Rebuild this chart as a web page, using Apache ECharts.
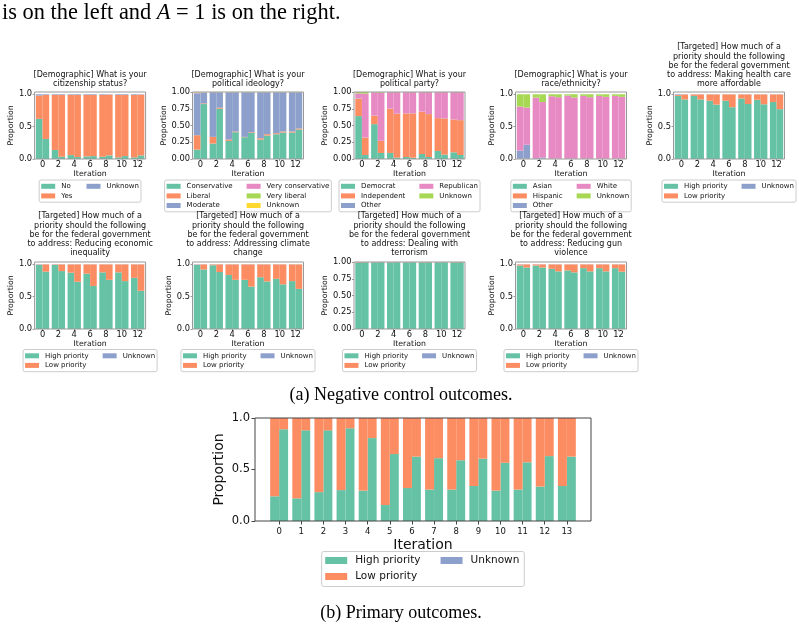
<!DOCTYPE html>
<html>
<head>
<meta charset="utf-8">
<script src="https://cdn.jsdelivr.net/npm/echarts@6.0.0/dist/echarts.min.js"></script>
<style>
html,body{margin:0;padding:0;background:#ffffff;}
#chart{width:799px;height:639px;}
</style>
</head>
<body>
<div id="chart"></div>
<script>
// ---------- tick labels / categories ----------
const iterSmall = ['0', '2', '4', '6', '8', '10', '12'];
const iterBig = ['0', '1', '2', '3', '4', '5', '6', '7', '8', '9', '10', '11', '12', '13'];
const yTicksHalf = [0, 0.5, 1.0];
const yTicksQuarter = [0, 0.25, 0.5, 0.75, 1.0];

// ---------- citizenship (A0 = left bar, A1 = right bar) ----------
const citNoA0  = [0.62, 0.14, 0.06, 0.04, 0.035, 0.025, 0.025];
const citYesA0 = [0.36, 0.85, 0.93, 0.95, 0.955, 0.965, 0.965];
const citUnkA0 = [0.02, 0.01, 0.01, 0.01, 0.01, 0.01, 0.01];
const citNoA1  = [0.31, 0.035, 0.03, 0.045, 0.055, 0.045, 0.055];
const citYesA1 = [0.68, 0.955, 0.96, 0.945, 0.94, 0.945, 0.94];
const citUnkA1 = [0.01, 0.01, 0.01, 0.01, 0.005, 0.01, 0.005];

// ---------- ideology ----------
const ideConsA0 = [0.14, 0.23, 0.27, 0.325, 0.29, 0.37, 0.395];
const ideLibA0  = [0.215, 0.10, 0.02, 0.005, 0.02, 0.015, 0.015];
const ideModA0  = [0.625, 0.665, 0.705, 0.665, 0.685, 0.61, 0.585];
const ideVConsA0 = [0.01, 0.003, 0.002, 0.002, 0.002, 0.002, 0.002];
const ideVLibA0  = [0.007, 0.002, 0.002, 0.002, 0.002, 0.002, 0.002];
const ideUnkA0   = [0.003, 0.0, 0.001, 0.001, 0.001, 0.001, 0.001];
const ideConsA1 = [0.82, 0.75, 0.40, 0.39, 0.35, 0.395, 0.44];
const ideLibA1  = [0.01, 0.015, 0.01, 0.01, 0.02, 0.015, 0.015];
const ideModA1  = [0.16, 0.23, 0.585, 0.595, 0.625, 0.585, 0.54];
const ideVConsA1 = [0.005, 0.002, 0.002, 0.002, 0.002, 0.002, 0.002];
const ideVLibA1  = [0.003, 0.002, 0.002, 0.002, 0.002, 0.002, 0.002];
const ideUnkA1   = [0.002, 0.001, 0.001, 0.001, 0.001, 0.001, 0.001];

// ---------- party ----------
const parDemA0 = [0.64, 0.52, 0.09, 0.03, 0.075, 0.12, 0.10];
const parIndA0 = [0.26, 0.125, 0.66, 0.65, 0.63, 0.49, 0.49];
const parOthA0 = [0.005, 0.003, 0.002, 0.002, 0.002, 0.002, 0.002];
const parRepA0 = [0.075, 0.347, 0.246, 0.316, 0.291, 0.386, 0.406];
const parUnkA0 = [0.02, 0.005, 0.002, 0.002, 0.002, 0.002, 0.002];
const parDemA1 = [0.06, 0.09, 0.02, 0.02, 0.03, 0.065, 0.06];
const parIndA1 = [0.26, 0.18, 0.655, 0.66, 0.64, 0.54, 0.52];
const parOthA1 = [0.003, 0.002, 0.002, 0.002, 0.002, 0.002, 0.002];
const parRepA1 = [0.652, 0.718, 0.321, 0.316, 0.326, 0.391, 0.416];
const parUnkA1 = [0.025, 0.01, 0.002, 0.002, 0.002, 0.002, 0.002];

// ---------- race ----------
const racAsiA0 = [0.002, 0.002, 0.002, 0.002, 0.002, 0.002, 0.002];
const racHisA0 = [0.002, 0.002, 0.002, 0.002, 0.002, 0.002, 0.002];
const racOthA0 = [0.126, 0.01, 0.003, 0.003, 0.003, 0.003, 0.003];
const racWhiA0 = [0.68, 0.936, 0.963, 0.973, 0.968, 0.968, 0.968];
const racUnkA0 = [0.19, 0.05, 0.03, 0.02, 0.025, 0.025, 0.025];
const racAsiA1 = [0.003, 0.002, 0.002, 0.002, 0.002, 0.002, 0.002];
const racHisA1 = [0.002, 0.002, 0.002, 0.002, 0.002, 0.002, 0.002];
const racOthA1 = [0.215, 0.02, 0.003, 0.003, 0.003, 0.003, 0.003];
const racWhiA1 = [0.575, 0.856, 0.948, 0.943, 0.948, 0.953, 0.953];
const racUnkA1 = [0.205, 0.12, 0.045, 0.05, 0.045, 0.04, 0.04];

// ---------- health care ----------
const heaHighA0 = [0.975, 0.975, 0.90, 0.90, 0.935, 0.915, 0.88];
const heaLowA0  = [0.015, 0.022, 0.098, 0.098, 0.063, 0.083, 0.118];
const heaUnkA0  = [0.01, 0.003, 0.002, 0.002, 0.002, 0.002, 0.002];
const heaHighA1 = [0.92, 0.92, 0.84, 0.80, 0.85, 0.845, 0.77];
const heaLowA1  = [0.077, 0.078, 0.158, 0.198, 0.148, 0.153, 0.228];
const heaUnkA1  = [0.003, 0.002, 0.002, 0.002, 0.002, 0.002, 0.002];

// ---------- economic inequality ----------
const ecoHighA0 = [0.99, 0.99, 0.87, 0.855, 0.875, 0.875, 0.79];
const ecoLowA0  = [0.005, 0.007, 0.128, 0.143, 0.123, 0.123, 0.208];
const ecoUnkA0  = [0.005, 0.003, 0.002, 0.002, 0.002, 0.002, 0.002];
const ecoHighA1 = [0.885, 0.895, 0.73, 0.665, 0.76, 0.74, 0.59];
const ecoLowA1  = [0.113, 0.103, 0.268, 0.333, 0.238, 0.258, 0.408];
const ecoUnkA1  = [0.002, 0.002, 0.002, 0.002, 0.002, 0.002, 0.002];

// ---------- climate change ----------
const cliHighA0 = [0.99, 0.985, 0.835, 0.76, 0.80, 0.775, 0.74];
const cliLowA0  = [0.005, 0.012, 0.163, 0.238, 0.198, 0.223, 0.258];
const cliUnkA0  = [0.005, 0.003, 0.002, 0.002, 0.002, 0.002, 0.002];
const cliHighA1 = [0.92, 0.88, 0.76, 0.655, 0.735, 0.69, 0.62];
const cliLowA1  = [0.078, 0.118, 0.238, 0.343, 0.263, 0.308, 0.378];
const cliUnkA1  = [0.002, 0.002, 0.002, 0.002, 0.002, 0.002, 0.002];

// ---------- terrorism ----------
const terHighA0 = [0.99, 0.995, 0.995, 0.995, 0.993, 0.995, 0.993];
const terLowA0  = [0.008, 0.004, 0.004, 0.004, 0.006, 0.004, 0.006];
const terUnkA0  = [0.002, 0.001, 0.001, 0.001, 0.001, 0.001, 0.001];
const terHighA1 = [0.995, 0.997, 0.997, 0.997, 0.995, 0.997, 0.995];
const terLowA1  = [0.004, 0.002, 0.002, 0.002, 0.004, 0.002, 0.004];
const terUnkA1  = [0.001, 0.001, 0.001, 0.001, 0.001, 0.001, 0.001];

// ---------- gun violence ----------
const gunHighA0 = [0.98, 0.98, 0.93, 0.905, 0.94, 0.94, 0.94];
const gunLowA0  = [0.017, 0.018, 0.068, 0.093, 0.058, 0.058, 0.058];
const gunUnkA0  = [0.003, 0.002, 0.002, 0.002, 0.002, 0.002, 0.002];
const gunHighA1 = [0.95, 0.95, 0.89, 0.875, 0.89, 0.89, 0.885];
const gunLowA1  = [0.048, 0.048, 0.108, 0.123, 0.108, 0.108, 0.113];
const gunUnkA1  = [0.002, 0.002, 0.002, 0.002, 0.002, 0.002, 0.002];

// ---------- primary outcome ----------
const priHighA0 = [0.24, 0.22, 0.28, 0.30, 0.295, 0.155, 0.32, 0.305, 0.305, 0.34, 0.295, 0.305, 0.335, 0.34];
const priLowA0  = [0.76, 0.78, 0.72, 0.70, 0.705, 0.845, 0.68, 0.695, 0.695, 0.66, 0.705, 0.695, 0.665, 0.66];
const priUnkA0  = [0, 0, 0, 0, 0, 0, 0, 0, 0, 0, 0, 0, 0, 0];
const priHighA1 = [0.89, 0.88, 0.88, 0.90, 0.805, 0.65, 0.625, 0.61, 0.59, 0.605, 0.565, 0.57, 0.63, 0.625];
const priLowA1  = [0.11, 0.12, 0.12, 0.10, 0.195, 0.35, 0.375, 0.39, 0.41, 0.395, 0.435, 0.43, 0.37, 0.375];
const priUnkA1  = [0, 0, 0, 0, 0, 0, 0, 0, 0, 0, 0, 0, 0, 0];

// ---------- styling ----------
const SET2 = ['#66c2a5', '#fc8d62', '#8da0cb', '#e78ac3', '#a6d854', '#ffd92f'];
const FONT = '"DejaVu Sans", sans-serif';
const SERIF = '"Liberation Serif", "Times New Roman", serif';
const TXT = '#111111';
const TARGET_HEAD = '[Targeted] How much of a\npriority should the following\nbe for the federal government\n';

const SMALL = {xTickFont: 8.3, yTickFont: 8.3, nameFont: 7.8, titleFont: 8, titleLH: 9.3,
  legendFont: 7, iconW: 14, iconH: 5, rowH: 9.6, colSp: 14, textPadL: 1, barW: '42%',
  xLabelMargin: 2, yLabelMargin: 2.5, tickLen: 2, xNameGap: 10, legPad: [1.5, 2, 1.5, 2], frame: '#999999'};
const BIG = {xTickFont: 8.5, yTickFont: 11.5, nameFont: 14, titleFont: 8, titleLH: 9.3,
  legendFont: 10.5, iconW: 22, iconH: 7, rowH: 16, colSp: 20, textPadL: 3, barW: '40.5%',
  xLabelMargin: 6, yLabelMargin: 5, tickLen: 3.5, xNameGap: 17, legPad: [1, 5, 2, 3.5], frame: '#444444'};

const SW = 111, SH = 67;
const panels = [
  {key: 'cit', title: '[Demographic] What is your\ncitizenship status?', box: [34.6, 92, SW, SH], titleBottom: 89,
   x: iterSmall, xMargin: 0.5, yTicks: yTicksHalf, yMax: 1.035, dec: 1, yNameGap: 19.5, legendTop: 180, col1: 2,
   cats: [['No', 0, citNoA0, citNoA1], ['Yes', 1, citYesA0, citYesA1], ['Unknown', 2, citUnkA0, citUnkA1]]},
  {key: 'ide', title: '[Demographic] What is your\npolitical ideology?', box: [192.5, 92, SW, SH], titleBottom: 89,
   x: iterSmall, xMargin: 0.5, yTicks: yTicksQuarter, yMax: 1.0, dec: 2, yNameGap: 21.5, legendTop: 180, col1: 3,
   cats: [['Conservative', 0, ideConsA0, ideConsA1], ['Liberal', 1, ideLibA0, ideLibA1], ['Moderate', 2, ideModA0, ideModA1],
          ['Very conservative', 3, ideVConsA0, ideVConsA1], ['Very liberal', 4, ideVLibA0, ideVLibA1], ['Unknown', 5, ideUnkA0, ideUnkA1]]},
  {key: 'par', title: '[Demographic] What is your\npolitical party?', box: [354, 92, SW, SH], titleBottom: 89,
   x: iterSmall, xMargin: 0.5, yTicks: yTicksQuarter, yMax: 1.0, dec: 2, yNameGap: 22.5, legendTop: 180, col1: 3,
   cats: [['Democrat', 0, parDemA0, parDemA1], ['Independent', 1, parIndA0, parIndA1], ['Other', 2, parOthA0, parOthA1],
          ['Republican', 3, parRepA0, parRepA1], ['Unknown', 4, parUnkA0, parUnkA1]]},
  {key: 'rac', title: '[Demographic] What is your\nrace/ethnicity?', box: [515.5, 92, SW, SH], titleBottom: 89,
   x: iterSmall, xMargin: 0.5, yTicks: yTicksHalf, yMax: 1.035, dec: 1, yNameGap: 20, legendTop: 180, col1: 3,
   cats: [['Asian', 0, racAsiA0, racAsiA1], ['Hispanic', 1, racHisA0, racHisA1], ['Other', 2, racOthA0, racOthA1],
          ['White', 3, racWhiA0, racWhiA1], ['Unknown', 4, racUnkA0, racUnkA1]]},
  {key: 'hea', title: TARGET_HEAD + 'to address: Making health care\nmore affordable', box: [673.5, 92, SW, SH], titleBottom: 89,
   x: iterSmall, xMargin: 0.5, yTicks: yTicksHalf, yMax: 1.035, dec: 1, yNameGap: 19.5, legendTop: 180, col1: 2,
   cats: [['High priority', 0, heaHighA0, heaHighA1], ['Low priority', 1, heaLowA0, heaLowA1], ['Unknown', 2, heaUnkA0, heaUnkA1]]},
  {key: 'eco', title: TARGET_HEAD + 'to address: Reducing economic\ninequality', box: [34.6, 262, SW, SH], titleBottom: 258,
   x: iterSmall, xMargin: 0.5, yTicks: yTicksHalf, yMax: 1.035, dec: 1, yNameGap: 19.5, legendTop: 349.5, col1: 2,
   cats: [['High priority', 0, ecoHighA0, ecoHighA1], ['Low priority', 1, ecoLowA0, ecoLowA1], ['Unknown', 2, ecoUnkA0, ecoUnkA1]]},
  {key: 'cli', title: TARGET_HEAD + 'to address: Addressing climate\nchange', box: [192.5, 262, SW, SH], titleBottom: 258,
   x: iterSmall, xMargin: 0.5, yTicks: yTicksHalf, yMax: 1.035, dec: 1, yNameGap: 19.5, legendTop: 349.5, col1: 2,
   cats: [['High priority', 0, cliHighA0, cliHighA1], ['Low priority', 1, cliLowA0, cliLowA1], ['Unknown', 2, cliUnkA0, cliUnkA1]]},
  {key: 'ter', title: TARGET_HEAD + 'to address: Dealing with\nterrorism', box: [354, 262, SW, SH], titleBottom: 258,
   x: iterSmall, xMargin: 0.5, yTicks: yTicksQuarter, yMax: 1.0, dec: 2, yNameGap: 22.5, legendTop: 349.5, col1: 2,
   cats: [['High priority', 0, terHighA0, terHighA1], ['Low priority', 1, terLowA0, terLowA1], ['Unknown', 2, terUnkA0, terUnkA1]]},
  {key: 'gun', title: TARGET_HEAD + 'to address: Reducing gun\nviolence', box: [515.5, 262, SW, SH], titleBottom: 258,
   x: iterSmall, xMargin: 0.5, yTicks: yTicksHalf, yMax: 1.035, dec: 1, yNameGap: 19.5, legendTop: 349.5, col1: 2,
   cats: [['High priority', 0, gunHighA0, gunHighA1], ['Low priority', 1, gunLowA0, gunLowA1], ['Unknown', 2, gunUnkA0, gunUnkA1]]},
  {key: 'pri', big: true, title: '', box: [255, 418, 336, 103], titleBottom: 410,
   x: iterBig, xMargin: 1.09, yTicks: yTicksHalf, yMax: 1.0, dec: 1, yNameGap: 28.5, legendTop: 551.5, col1: 2,
   cats: [['High priority', 0, priHighA0, priHighA1], ['Low priority', 1, priLowA0, priLowA1], ['Unknown', 2, priUnkA0, priUnkA1]]}
];

const mctx = document.createElement('canvas').getContext('2d');
function textW(t, size) { mctx.font = size + 'px "DejaVu Sans"'; return mctx.measureText(t).width; }

const option = {animation: false, backgroundColor: '#ffffff', grid: [], xAxis: [], yAxis: [], series: [], legend: [], graphic: []};

panels.forEach((p, i) => {
  const S = p.big ? BIG : SMALL;
  const [L, T, W, H] = p.box;
  const cx = L + W / 2;
  const n = p.x.length;
  const ppu = W / (n - 1 + 2 * p.xMargin);          // pixels per category step
  const gridLeft = L + (p.xMargin - 0.5) * ppu;      // category band starts inside the frame
  const yOff = gridLeft - L;
  option.grid.push({left: gridLeft, top: T, width: n * ppu, height: H, show: false});
  option.xAxis.push({
    type: 'category', gridIndex: i, data: p.x, boundaryGap: true,
    name: 'Iteration', nameLocation: 'middle', nameGap: S.xNameGap,
    nameTextStyle: {fontFamily: FONT, fontSize: S.nameFont, color: TXT},
    axisLine: {show: false}, splitLine: {show: false},
    axisTick: {show: true, alignWithLabel: true, interval: 0, length: S.tickLen, lineStyle: {color: S.frame, width: 1}},
    axisLabel: {show: true, interval: 0, fontFamily: FONT, fontSize: S.xTickFont, color: TXT, margin: S.xLabelMargin}
  });
  option.yAxis.push({
    type: 'value', gridIndex: i, min: 0, max: p.yMax, offset: yOff,
    name: 'Proportion', nameLocation: 'middle', nameGap: p.yNameGap,
    nameTextStyle: {fontFamily: FONT, fontSize: S.nameFont, color: TXT},
    axisLine: {show: false}, splitLine: {show: false},
    axisTick: {show: true, length: S.tickLen, customValues: p.yTicks, lineStyle: {color: S.frame, width: 1}},
    axisLabel: {show: true, customValues: p.yTicks, fontFamily: FONT, fontSize: S.yTickFont, color: TXT, margin: S.yLabelMargin,
      formatter: v => Number(v).toFixed(p.dec)}
  });
  p.cats.forEach(([name, ci, a0, a1]) => {
    [a0, a1].forEach((arr, k) => {
      option.series.push({
        type: 'bar', name: name + '|' + p.key, xAxisIndex: i, yAxisIndex: i,
        stack: p.key + '_A' + k, barWidth: S.barW, barGap: '0%',
        itemStyle: {color: SET2[ci]}, silent: true, emphasis: {disabled: true},
        data: arr
      });
    });
  });
  // frame (spines) drawn above bars
  option.graphic.push({type: 'rect', silent: true, z: 50,
    shape: {x: L, y: T, width: W, height: H},
    style: {fill: 'none', stroke: S.frame, lineWidth: 1}});
  if (p.title) {
    option.graphic.push({type: 'text', silent: true, z: 50, x: cx, y: p.titleBottom,
      style: {text: p.title, fontFamily: FONT, fontSize: S.titleFont, lineHeight: S.titleLH, fill: TXT,
        align: 'center', verticalAlign: 'bottom'}});
  }
  // legend (2 columns, column-major like matplotlib)
  const names = p.cats.map(c => c[0]);
  const col1 = names.slice(0, p.col1), col2 = names.slice(p.col1);
  const w1 = Math.max(...col1.map(nm => textW(nm, S.legendFont)));
  const w2 = Math.max(...col2.map(nm => textW(nm, S.legendFont)));
  const itemExtra = S.iconW + 5 + S.textPadL;
  const boxW = itemExtra + w1 + S.colSp + itemExtra + w2 + S.legPad[1] + S.legPad[3];
  const rows = Math.max(col1.length, col2.length);
  option.legend.push({
    show: true, orient: 'vertical', left: cx - boxW / 2, top: p.legendTop, height: rows * S.rowH + 2,
    padding: S.legPad, itemGap: 0, itemWidth: S.iconW, itemHeight: S.iconH, icon: 'rect', selectedMode: false,
    backgroundColor: 'rgba(255,255,255,0.85)', borderColor: '#cccccc', borderWidth: 1, borderRadius: 2, z: 10 + i,
    formatter: nm => nm.split('|')[0],
    textStyle: {fontFamily: FONT, fontSize: S.legendFont, color: TXT, lineHeight: S.rowH, padding: [0, 0, 0, S.textPadL]},
    data: names.map((nm, j) => j < p.col1 ? {name: nm + '|' + p.key, textStyle: {width: w1 + S.colSp}} : {name: nm + '|' + p.key})
  });
});

// captions and running text
option.graphic.push({type: 'text', silent: true, x: 2, y: 13,
  style: {text: '{r|is on the left and }{i|A}{r| = 1 is on the right.}', verticalAlign: 'middle',
    rich: {r: {fontFamily: SERIF, fontSize: 22.4, fill: '#000'}, i: {fontFamily: SERIF, fontSize: 22.4, fontStyle: 'italic', fill: '#000'}}}});
option.graphic.push({type: 'text', silent: true, x: 401, y: 395,
  style: {text: '(a) Negative control outcomes.', fontFamily: SERIF, fontSize: 18, fill: '#000', align: 'center', verticalAlign: 'middle'}});
option.graphic.push({type: 'text', silent: true, x: 401, y: 613,
  style: {text: '(b) Primary outcomes.', fontFamily: SERIF, fontSize: 18, fill: '#000', align: 'center', verticalAlign: 'middle'}});

const chart = echarts.init(document.getElementById('chart'), null, {renderer: 'canvas', width: 799, height: 639});
chart.setOption(option);
</script>
</body>
</html>
